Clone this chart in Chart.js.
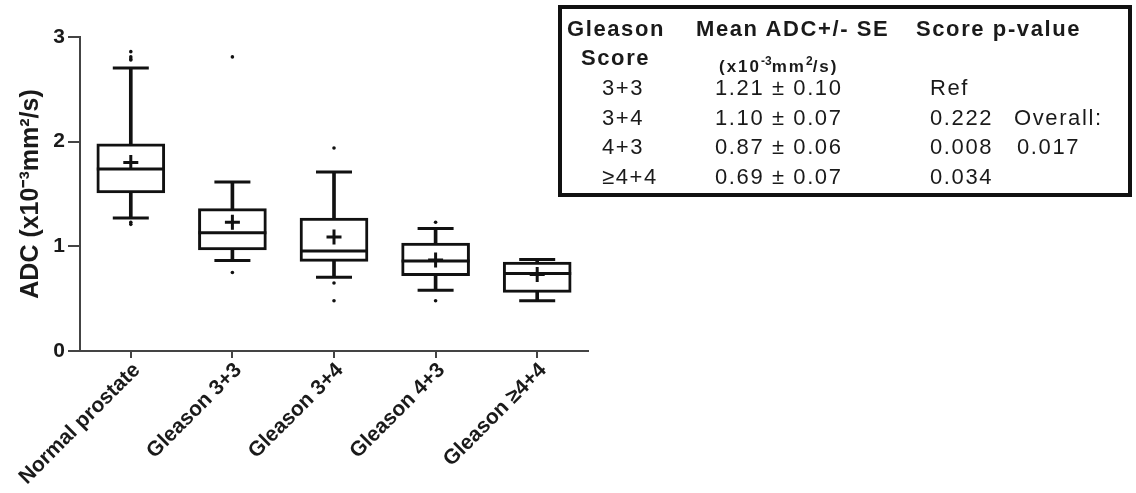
<!DOCTYPE html>
<html>
<head>
<meta charset="utf-8">
<title>ADC by Gleason score</title>
<script src="https://cdn.jsdelivr.net/npm/chart.js@4.4.1/dist/chart.umd.min.js"></script>
<style>
    body { margin: 0; background: #fff; }
    #wrap { position: relative; width: 1136px; height: 493px; font-family: "Liberation Sans", Arial, sans-serif; color: #1a1a1a; }
    #chart { position: absolute; left: 0; top: 0; }
    #stats { position: absolute; left: 558px; top: 5px; width: 574px; height: 192px; border: 4px solid #111; box-sizing: border-box; }
    .t { position: absolute; font-size: 22px; line-height: 24px; letter-spacing: 1.6px; white-space: nowrap; }
    .b { font-weight: bold; }
    .unit { font-size: 17px; letter-spacing: 2px; }
    .unit sup { font-size: 12px; letter-spacing: 0; }
</style>
</head>
<body>
<div id="wrap">
    <canvas id="chart" width="1136" height="493"></canvas>
    <div id="stats"></div>
</div>
<script>
// Box plot values (x10^-3 mm^2/s)
const categories = ['Normal prostate', 'Gleason 3+3', 'Gleason 3+4', 'Gleason 4+3', 'Gleason \u22654+4'];
const whiskerLow = [1.27, 0.865, 0.705, 0.58, 0.48];
const q1 = [1.51, 0.965, 0.857, 0.72, 0.56];
const median = [1.74, 1.13, 0.955, 0.86, 0.74];
const q3 = [1.98, 1.36, 1.27, 1.03, 0.85];
const whiskerHigh = [2.705, 1.615, 1.71, 1.17, 0.875];
const mean = [1.80, 1.23, 1.09, 0.87, 0.73];
const outliers = [
    [2.86, 2.81, 2.79, 2.78, 1.23, 1.21],
    [2.81, 0.75],
    [1.94, 0.65, 0.48],
    [1.23, 0.48],
    []
];
const yTicks = [0, 1, 2, 3];

// Inset table
const tableScores = ['3+3', '3+4', '4+3', '\u22654+4'];
const tableMeans = ['1.21 \u00b1 0.10', '1.10 \u00b1 0.07', '0.87 \u00b1 0.06', '0.69 \u00b1 0.07'];
const tablePValues = ['Ref', '0.222', '0.008', '0.034'];
const overallP = '0.017';

const FONT = '"Liberation Sans", Arial, sans-serif';
const INK = '#111';

/**
 * Writes the inset statistics table as positioned text.
 */
function buildTable() {
    const wrap = document.getElementById('wrap');
    const add = (html, left, cy, cls) => {
        const el = document.createElement('div');
        el.className = 't ' + (cls || '');
        el.innerHTML = html;
        el.style.left = left + 'px';
        el.style.top = (cy - 12) + 'px';
        wrap.appendChild(el);
    };
    add('Gleason', 567, 29, 'b');
    add('Mean ADC+/- SE', 696, 29, 'b');
    add('Score p-value', 916, 29, 'b');
    add('Score', 581, 58, 'b');
    add('(x10<sup>-3</sup>mm<sup>2</sup>/s)', 719, 61, 'b unit');
    const rowY = [88, 118, 147, 177];
    tableScores.forEach((s, i) => {
        add(s, 602, rowY[i]);
        add(tableMeans[i], 715, rowY[i]);
        add(tablePValues[i], 930, rowY[i]);
    });
    add('Overall:', 1014, rowY[1]);
    add(overallP, 1017, rowY[2]);
}

function pointsAt(values) {
    const pts = [];
    values.forEach((list, i) => list.forEach(v => pts.push({ x: categories[i], y: v })));
    return pts;
}

function initChart() {
    const ctx = document.getElementById('chart');
    new Chart(ctx, {
        type: 'bar',
        data: {
            labels: categories,
            datasets: [
                {
                    // whisker stems
                    type: 'bar',
                    data: categories.map((_, i) => [whiskerLow[i], whiskerHigh[i]]),
                    backgroundColor: INK,
                    barThickness: 3,
                    grouped: false,
                    order: 6
                },
                {
                    // interquartile boxes
                    type: 'bar',
                    data: categories.map((_, i) => [q1[i], q3[i]]),
                    backgroundColor: '#fff',
                    borderColor: INK,
                    borderWidth: 3,
                    borderSkipped: false,
                    barThickness: 68,
                    grouped: false,
                    order: 5
                },
                {
                    // medians
                    type: 'line',
                    data: median,
                    showLine: false,
                    pointStyle: 'line',
                    pointRadius: 34,
                    pointBorderWidth: 3,
                    pointBorderColor: INK,
                    order: 4
                },
                {
                    // whisker caps
                    type: 'line',
                    data: pointsAt(categories.map((_, i) => [whiskerLow[i], whiskerHigh[i]])),
                    showLine: false,
                    pointStyle: 'line',
                    pointRadius: 18,
                    pointBorderWidth: 3,
                    pointBorderColor: INK,
                    order: 3
                },
                {
                    // outliers
                    type: 'line',
                    data: pointsAt(outliers),
                    showLine: false,
                    pointStyle: 'circle',
                    pointRadius: 1.8,
                    pointBorderWidth: 0,
                    pointBackgroundColor: INK,
                    order: 2
                },
                {
                    // means
                    type: 'line',
                    data: mean,
                    showLine: false,
                    pointStyle: 'cross',
                    pointRadius: 7.5,
                    pointBorderWidth: 3,
                    pointBorderColor: INK,
                    order: 1
                }
            ]
        },
        options: {
            responsive: false,
            animation: false,
            layout: { padding: { top: 14, right: 548, bottom: 0, left: 0 } },
            plugins: { legend: { display: false }, tooltip: { enabled: false } },
            scales: {
                x: {
                    offset: true,
                    grid: { offset: false, drawOnChartArea: false, tickLength: 7, color: '#444', lineWidth: 2 },
                    border: { color: '#444', width: 2 },
                    ticks: {
                        color: '#1a1a1a',
                        font: { family: FONT, size: 21, weight: 'bold' },
                        minRotation: 45,
                        maxRotation: 45,
                        autoSkip: false,
                        padding: 0,
                        labelOffset: 6
                    },
                    afterFit: s => { s.height = 142; }
                },
                y: {
                    min: 0,
                    max: 3,
                    afterBuildTicks: s => { s.ticks = yTicks.map(v => ({ value: v })); },
                    grid: { drawOnChartArea: false, tickLength: 12, color: '#444', lineWidth: 2 },
                    border: { color: '#444', width: 2 },
                    ticks: {
                        color: '#1a1a1a',
                        font: { family: FONT, size: 21, weight: 'bold' },
                        padding: 3
                    },
                    title: {
                        display: true,
                        text: 'ADC (x10\u207b\u00b3mm\u00b2/s)',
                        color: '#1a1a1a',
                        font: { family: FONT, size: 25, weight: 'bold' },
                        padding: { top: 16, bottom: 0 }
                    },
                    afterFit: s => { s.width = 80; }
                }
            }
        }
    });
}

buildTable();
initChart();
</script>
</body>
</html>
